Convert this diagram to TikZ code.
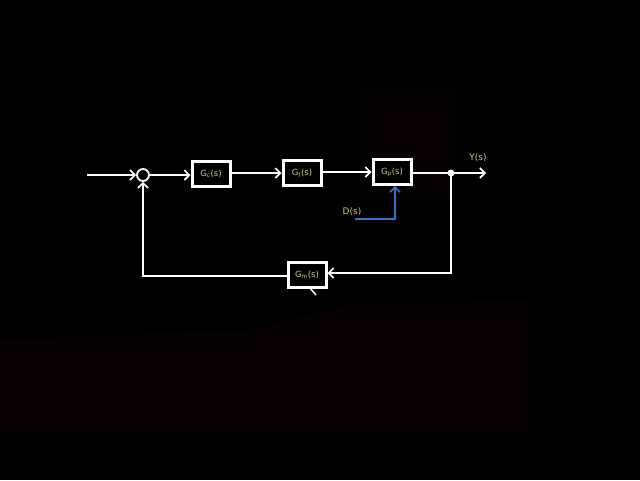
\documentclass[tikz,border=0pt]{standalone}
\usepackage{fontspec}
\setmainfont{DejaVu Sans}
\usetikzlibrary{arrows.meta,calc}
\definecolor{lbl}{HTML}{D6CD8C}
\definecolor{dblue}{HTML}{3F6FD0}
\definecolor{haze}{HTML}{080102}
\definecolor{hazetop}{HTML}{060101}
\begin{document}
\begin{tikzpicture}[x=1pt,y=-1pt,
  wire/.style={draw=white,line width=2pt,-{Straight Barb[length=5pt,width=10pt,line width=1.6pt]}},
  plain/.style={draw=white,line width=2pt},
  blockbox/.style={draw=white,line width=3pt,fill=black,minimum width=38pt,minimum height=25pt,inner sep=0pt,text=lbl,font=\fontsize{8.5}{9}\selectfont},
  lab/.style={text=lbl,font=\fontsize{9}{10}\selectfont,inner sep=0pt}]
\fill[black] (0,0) rectangle (640,480);
\useasboundingbox (0,0) rectangle (640,480);
\fill[haze] (0,340) -- (250,330) -- (350,305) -- (527,301) -- (527,433) -- (0,433) -- cycle;
\fill[hazetop] (362,88) rectangle (456,200);
% nodes
\coordinate (in) at (87,175);
\node[circle,draw=white,line width=1.8pt,fill=black,minimum size=12pt,inner sep=0pt] (sum) at (143,175) {};
\node[blockbox] (gc) at (211,174) {G\textsubscript{c}(s)};
\node[blockbox] (gf) at (302,173) {G\textsubscript{f}(s)};
\node[blockbox] (gp) at (392,172) {G\textsubscript{p}(s)};
\node[blockbox] (gm) at (307,275) {G\textsubscript{m}(s)};
\coordinate (dot) at (451,173);
\coordinate (out) at (486,173);
\node[lab] (ylab) at (478,158) {Y(s)};
\node[lab] (dlab) at (352,212) {D(s)};
\coordinate (dstart) at (355,219);
\coordinate (fbr) at (457,273);
\coordinate (fbl) at (143,276);
% connectors
\draw[wire] (in) -- (sum.west);
\draw[wire] (sum.east) -- (sum.east -| gc.west);
\draw[wire] (gc.east |- gf) -- (gf.west);
\draw[wire] (gf.east |- gp) -- (gp.west);
\draw[wire] (gp.east |- dot) -- (out);
\fill[white] (dot) circle (3.5pt);
\draw[wire] (dot) -- (dot |- fbr) -- (gm.east |- fbr);
\draw[wire] (gm.west |- fbl) -- (fbl) -- (sum.south);
\draw[draw=dblue,line width=2pt,-{Straight Barb[length=5pt,width=10pt,line width=1.6pt]}] (dstart) -- (395,219) -- (gp.south -| 395,0);
\draw[plain,line width=1.5pt] (309,287) -- (316,295);
\end{tikzpicture}
\end{document}
